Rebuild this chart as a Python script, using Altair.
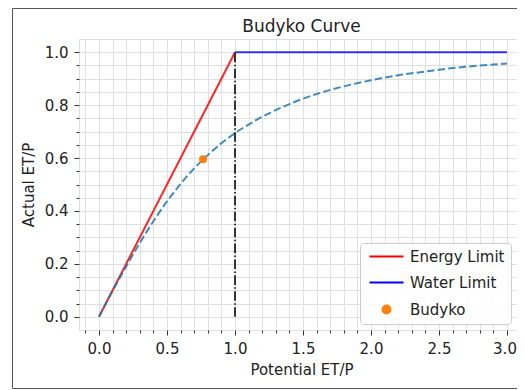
import altair as alt
import pandas as pd

# ---- data ----
energy_x = [0.0, 1.0]
energy_y = [0.0, 1.0]
water_x = [1.0, 3.0]
water_y = [1.0, 1.0]
divider_x = [1.0, 1.0]
divider_y = [0.0, 1.0]
budyko_x = [0.0, 0.1, 0.2, 0.3, 0.4, 0.5, 0.6, 0.7, 0.8, 0.9, 1.0,
            1.2, 1.4, 1.6, 1.8, 2.0, 2.2, 2.4, 2.6, 2.8, 3.0]
budyko_y = [0.0, 0.098, 0.190, 0.279, 0.361, 0.436, 0.502, 0.561, 0.611, 0.656, 0.694,
            0.756, 0.804, 0.842, 0.871, 0.894, 0.913, 0.927, 0.940, 0.950, 0.957]
point_x = [0.765]
point_y = [0.595]
legend_labels = ["Energy Limit", "Water Limit", "Budyko"]
legend_colors = ["#ff0000", "#0000ff", "#ff7f0e"]
legend_shapes = ["M-4.25,0H4.25", "M-4.25,0H4.25", "circle"]

x_ticks = [round(i * 0.1, 1) for i in range(-1, 32)]
y_ticks = [round(i * 0.05, 2) for i in range(0, 21)]

FONT = "DejaVu Sans"
TXT = "#222222"

xs = alt.Scale(domain=[-0.147, 3.125], nice=False, zero=False)
ys = alt.Scale(domain=[-0.05, 1.05], nice=False, zero=False)

x_major = "abs(datum.value*2 - round(datum.value*2)) < 0.001"
y_major = "abs(datum.value*5 - round(datum.value*5)) < 0.001"

x_axis = alt.Axis(
    title="Potential ET/P", values=x_ticks, tickCount=200, grid=True, gridColor="#e0e0e0",
    domain=False, tickColor="#333333",
    tickSize={"condition": {"test": x_major, "value": 5}, "value": 3},
    labelOffset={"condition": {"test": "datum.value > 2.95", "value": -2.5}, "value": 0},
    labelExpr=f"({x_major}) ? format(datum.value, '.1f') : ''",
    labelOverlap=False, labelFlush=False, labelFont=FONT, labelFontSize=15,
    labelColor=TXT, labelPadding=6, titleFont=FONT, titleFontSize=15,
    titleFontWeight="normal", titleColor=TXT, titlePadding=6,
)
y_axis = alt.Axis(
    title="Actual ET/P", values=y_ticks, tickCount=200, grid=True, gridColor="#e0e0e0",
    domain=False, tickColor="#333333",
    tickSize={"condition": {"test": y_major, "value": 5}, "value": 3},
    labelExpr=f"({y_major}) ? format(datum.value, '.1f') : ''",
    labelOverlap=False, labelFont=FONT, labelFontSize=15,
    labelColor=TXT, labelPadding=6, titleFont=FONT, titleFontSize=15,
    titleFontWeight="normal", titleColor=TXT, titlePadding=8,
)

energy = pd.DataFrame({"x": energy_x, "y": energy_y})
water = pd.DataFrame({"x": water_x, "y": water_y})
divider = pd.DataFrame({"x": divider_x, "y": divider_y})
budyko = pd.DataFrame({"x": budyko_x, "y": budyko_y})
point = pd.DataFrame({"x": point_x, "y": point_y, "series": ["Budyko"]})
frame = pd.DataFrame({"a": [0]})

energy_line = alt.Chart(energy).mark_line(color="#ff0000", strokeWidth=2, opacity=0.85).encode(
    x=alt.X("x:Q", scale=xs, axis=x_axis), y=alt.Y("y:Q", scale=ys, axis=y_axis))
water_line = alt.Chart(water).mark_line(color="#0000ff", strokeWidth=2, opacity=0.8).encode(
    x="x:Q", y="y:Q")
curve = alt.Chart(budyko).mark_line(color="#1f77b4", strokeWidth=2, opacity=0.85,
                                    strokeDash=[7.4, 3.2], interpolate="monotone").encode(
    x="x:Q", y="y:Q")
div_line = alt.Chart(divider).mark_line(color="#333333", strokeWidth=2,
                                        strokeDash=[9.6, 2.4, 1.5, 2.4]).encode(
    x="x:Q", y="y:Q")
pt = alt.Chart(point).mark_point(filled=False, fill="#ff7f0e", fillOpacity=1, opacity=1,
                                 strokeWidth=0, size=64).encode(
    x="x:Q", y="y:Q",
    color=alt.Color("series:N", scale=alt.Scale(domain=legend_labels, range=legend_colors),
                    legend=alt.Legend(title=None, orient="none", legendX=281, legendY=204,
                                      labelFont=FONT, labelFontSize=15, labelColor=TXT,
                                      symbolStrokeWidth=2, symbolFillColor="#ff7f0e",
                                      symbolSize=64, symbolOffset=13,
                                      labelOffset=16, rowPadding=10, padding=6,
                                      fillColor="rgba(255,255,255,0.85)", strokeColor="#cccccc",
                                      cornerRadius=3)),
    shape=alt.Shape("series:N", scale=alt.Scale(domain=legend_labels, range=legend_shapes),
                    legend=alt.Legend(title=None)),
)
box = alt.Chart(frame).mark_rect(fill="transparent", stroke="#555555", strokeWidth=1).encode(
    x=alt.value(-66.5), x2=alt.value(460), y=alt.value(-30.5), y2=alt.value(349.5))

chart = alt.layer(box, energy_line, water_line, curve, div_line, pt).properties(
    width=445, height=291,
    title=alt.TitleParams("Budyko Curve", font=FONT, fontSize=17, fontWeight="normal",
                          color=TXT, anchor="middle", offset=-28),
    autosize=alt.AutoSizeParams(type="none"),
    padding={"left": 71, "top": 31, "right": -7, "bottom": 60},
).configure_view(stroke="#222222", strokeWidth=1).configure(background="white")

chart.save("out.html", embed_options={"renderer": "svg", "actions": False})
